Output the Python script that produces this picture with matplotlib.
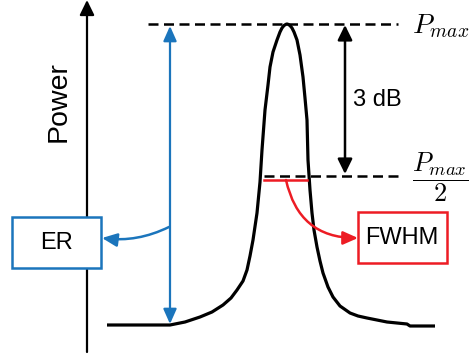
import matplotlib
matplotlib.use("Agg")
import matplotlib.pyplot as plt
from matplotlib.patches import Rectangle

# Spectrum curve (x, y in image-like units; y grows downward)
curve_x = [107, 170, 185, 200, 212, 223, 231, 237, 243, 247, 250, 253, 257, 260, 262,
           265, 268, 270, 273, 277, 280, 282, 284, 286, 287, 288, 290, 292, 294, 297,
           300, 303, 305, 307, 308, 310, 312, 314, 317, 320, 323, 328, 333, 340, 350,
           358, 367, 377, 387, 397, 407, 410, 435]
curve_y = [325, 325, 322, 317, 312, 305, 298, 290, 281, 270, 256, 240, 213, 182, 150,
           110, 85, 67, 52, 40, 32, 28, 25.5, 24.3, 24, 24.3, 25.5, 28, 32, 40,
           55, 77, 98, 120, 160, 190, 213, 230, 247, 261, 273, 287, 297, 306, 313,
           316, 318, 320, 322, 323, 324, 326, 326]

p_max_level = 24
p_half_level = 176
baseline_level = 325

labels = {"axis": "Power", "er": "ER", "fwhm": "FWHM", "db": "3 dB",
          "pmax": r"$P_{max}$", "phalf": r"$\dfrac{P_{max}}{2}$"}

BLUE = "#1b75bc"
RED = "#ed1c24"

fig = plt.figure(figsize=(4.69, 3.54), dpi=100)
ax = fig.add_axes([0, 0, 1, 1])
ax.set_xlim(0, 469)
ax.set_ylim(354, 0)
ax.axis("off")

sans = "Liberation Sans"

# vertical axis arrow
ax.annotate("", xy=(87, 0), xytext=(87, 352),
            arrowprops=dict(arrowstyle="-|>,head_length=0.45,head_width=0.22",
                            mutation_scale=20, color="black", lw=1.6,
                            shrinkA=0, shrinkB=0), zorder=1)
ax.text(59, 102, labels["axis"], rotation=90, ha="center", va="center",
        fontsize=20.5, family=sans)

# curve
ax.plot(curve_x, curve_y, color="black", lw=2.3, solid_capstyle="butt",
        solid_joinstyle="round")

# dashed levels
ax.plot([148, 398], [p_max_level, p_max_level], color="black", lw=1.8,
        linestyle=(0, (4, 2.2)))
ax.plot([264, 402], [p_half_level, p_half_level], color="black", lw=1.8,
        linestyle=(0, (4, 2.2)))

# level labels
ax.text(441, 26, labels["pmax"], ha="center", va="center", fontsize=20,
        math_fontfamily="cm")
ax.text(441, 177, labels["phalf"], ha="center", va="center", fontsize=19,
        math_fontfamily="cm")

# 3 dB arrow
ax.annotate("", xy=(345, p_max_level + 1), xytext=(345, p_half_level - 2),
            arrowprops=dict(arrowstyle="<|-|>,head_length=0.45,head_width=0.22",
                            mutation_scale=20, color="black", lw=1.8,
                            shrinkA=0, shrinkB=0))
ax.text(353, 100, labels["db"], ha="left", va="center", fontsize=17, family=sans)

# ER arrow (blue)
ax.annotate("", xy=(170, p_max_level + 2), xytext=(170, baseline_level - 1),
            arrowprops=dict(arrowstyle="<|-|>,head_length=0.45,head_width=0.2",
                            mutation_scale=20, color=BLUE, lw=1.6,
                            shrinkA=0, shrinkB=0))
ax.annotate("", xy=(102, 238), xytext=(169, 227),
            arrowprops=dict(arrowstyle="-|>,head_length=0.45,head_width=0.2",
                            mutation_scale=20, color=BLUE, lw=1.8,
                            shrinkA=0, shrinkB=0,
                            connectionstyle="arc3,rad=-0.15"))
ax.add_patch(Rectangle((12, 217), 89, 51, facecolor="white", edgecolor=BLUE, lw=1.8, zorder=6))
ax.text(57, 243, labels["er"], ha="center", va="center", fontsize=17, family=sans,
        zorder=7)

# FWHM (red)
ax.plot([264, 307], [180, 180], color=RED, lw=1.8)
ax.annotate("", xy=(358, 238), xytext=(286, 180),
            arrowprops=dict(arrowstyle="-|>,head_length=0.45,head_width=0.2",
                            mutation_scale=20, color=RED, lw=1.8,
                            shrinkA=0, shrinkB=0,
                            connectionstyle="arc3,rad=0.4"))
ax.add_patch(Rectangle((358, 212), 89, 51, facecolor="white", edgecolor=RED, lw=1.8, zorder=6))
ax.text(402, 238, labels["fwhm"], ha="center", va="center", fontsize=17, family=sans,
        zorder=7)

fig.savefig("out.png", dpi=100)
